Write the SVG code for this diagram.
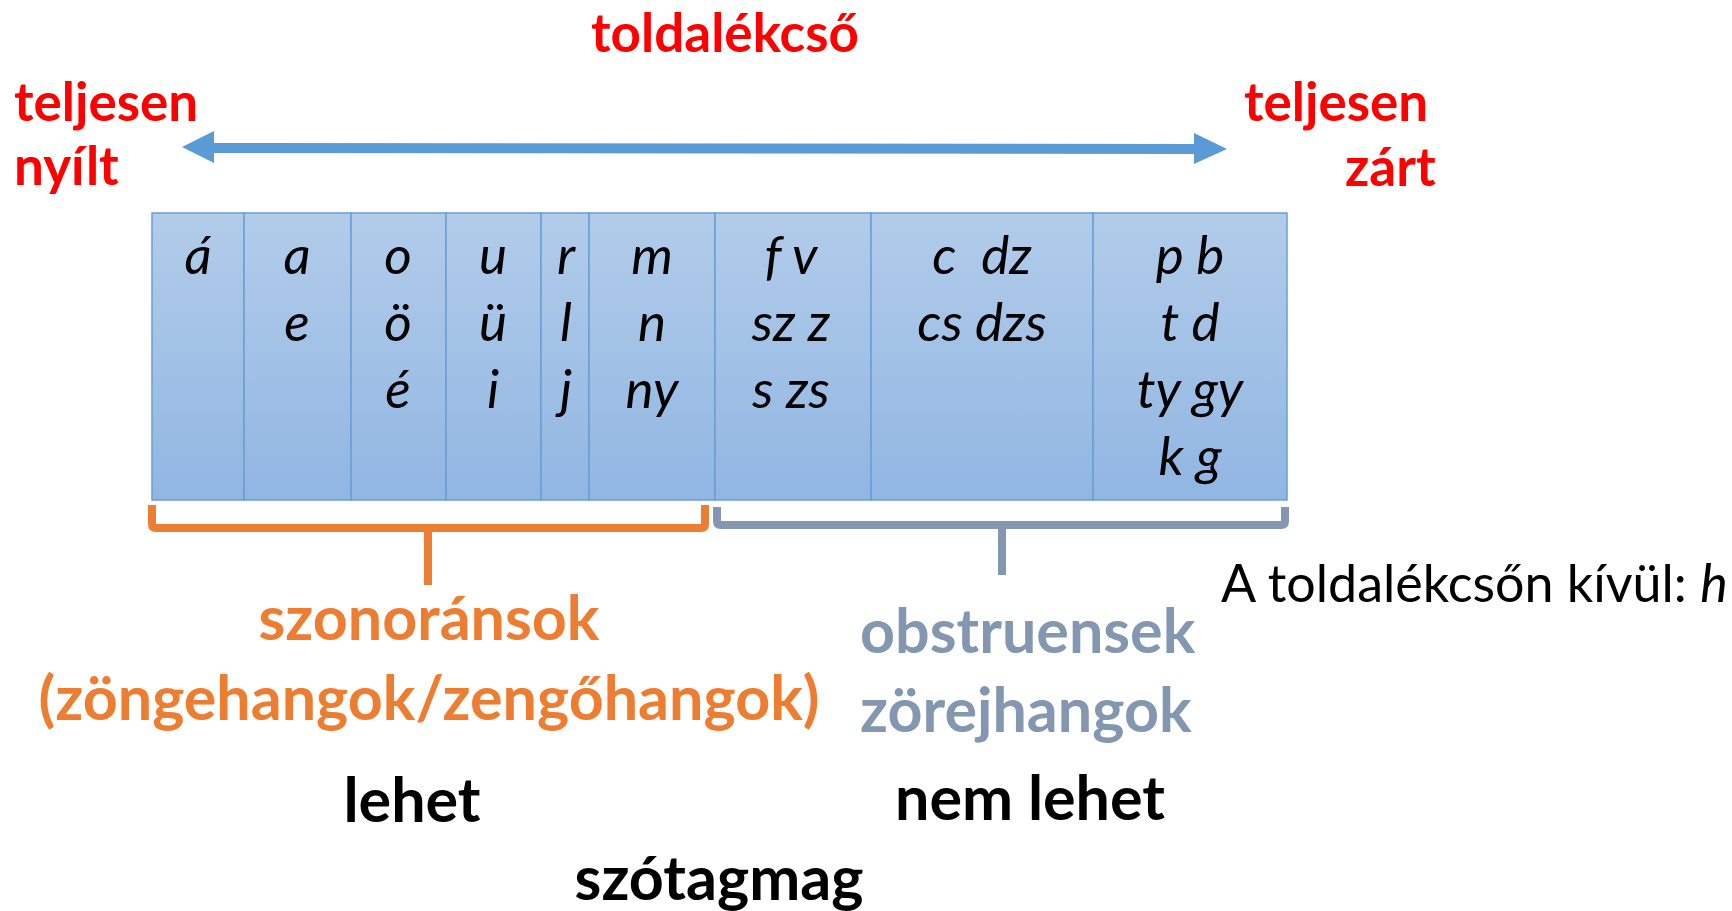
<svg xmlns="http://www.w3.org/2000/svg" width="1732" height="911" viewBox="0 0 1732 911">
<defs>
<linearGradient id="cellGrad" x1="0" y1="0" x2="0" y2="1">
<stop offset="0" stop-color="#B2CCEA"/>
<stop offset="1" stop-color="#91B6E2"/>
</linearGradient>
<style>
.red{font-family:Lato,"Liberation Sans",sans-serif;font-weight:bold;fill:#FF0000;font-size:53px}
.cell{fill:url(#cellGrad);stroke:#6A9FD6;stroke-width:1.5}
.ph{font-family:Lato,"Liberation Sans",sans-serif;font-style:italic;font-size:53px;fill:#000;text-anchor:middle;white-space:pre}
.big{font-family:Lato,"Liberation Sans",sans-serif;font-weight:bold;font-size:61px}
.orange{fill:#ED7D31}
.gray{fill:#8497B0}
.black{fill:#000}
.mid{text-anchor:middle}
.brace{fill:none;stroke-width:8;stroke-linejoin:round;stroke-linecap:butt}
</style>
</defs>
<rect width="1732" height="911" fill="#FFFFFF"/>

<g id="title">
<text class="red mid" x="725" y="52">toldalékcső</text>
</g>
<g id="left-label">
<text class="red" x="14" y="121">teljesen</text>
<text class="red" x="14" y="185">nyílt</text>
</g>
<g id="right-label">
<text class="red" x="1244" y="121">teljesen</text>
<text class="red" x="1345" y="186">zárt</text>
</g>

<g id="connectors">
<g id="scale-arrow" fill="#5B9BD5">
<polygon points="182,147 214,131 214,143 1194,144 1194,133 1227,149 1194,164 1194,154 214,153 214,163"/>
</g>
<g id="sonorant-brace">
<path class="brace" stroke="#ED7D31" d="M152,505 L152,524 Q152,528 156,528 L701,528 Q705,528 705,524 L705,505 M428,528 L428,585"/>
</g>
<g id="obstruent-brace">
<path class="brace" stroke="#8497B0" d="M717,507 L717,521 Q717,525 721,525 L1281,525 Q1285,525 1285,521 L1285,507 M1002,525 L1002,575"/>
</g>
</g>

<g id="table">
<rect class="cell" x="152" y="213" width="92" height="287"/>
<rect class="cell" x="244" y="213" width="107" height="287"/>
<rect class="cell" x="351" y="213" width="95" height="287"/>
<rect class="cell" x="446" y="213" width="95" height="287"/>
<rect class="cell" x="541" y="213" width="48" height="287"/>
<rect class="cell" x="589" y="213" width="126" height="287"/>
<rect class="cell" x="715" y="213" width="156" height="287"/>
<rect class="cell" x="871" y="213" width="222" height="287"/>
<rect class="cell" x="1093" y="213" width="194" height="287"/>
</g>

<g id="col-a-long">
<text class="ph" x="198" y="274">á</text>
</g>
<g id="col-a-e">
<text class="ph" x="297" y="274">a</text>
<text class="ph" x="297" y="341">e</text>
</g>
<g id="col-o">
<text class="ph" x="398" y="274">o</text>
<text class="ph" x="398" y="341">ö</text>
<text class="ph" x="398" y="408">é</text>
</g>
<g id="col-u">
<text class="ph" x="493" y="274">u</text>
<text class="ph" x="493" y="341">ü</text>
<text class="ph" x="493" y="408">i</text>
</g>
<g id="col-r">
<text class="ph" x="566" y="274">r</text>
<text class="ph" x="566" y="341">l</text>
<text class="ph" x="566" y="408">j</text>
</g>
<g id="col-m">
<text class="ph" x="652" y="274">m</text>
<text class="ph" x="652" y="341">n</text>
<text class="ph" x="652" y="408">ny</text>
</g>
<g id="col-f">
<text class="ph" x="791" y="274">f v</text>
<text class="ph" x="791" y="341">sz z</text>
<text class="ph" x="791" y="408">s zs</text>
</g>
<g id="col-c">
<text class="ph" x="982" y="274">c  dz</text>
<text class="ph" x="982" y="341">cs dzs</text>
</g>
<g id="col-p">
<text class="ph" x="1190" y="274">p b</text>
<text class="ph" x="1190" y="341">t d</text>
<text class="ph" x="1190" y="408">ty gy</text>
<text class="ph" x="1190" y="475">k g</text>
</g>

<g id="sonorant-label">
<text class="big orange mid" x="429" y="640">szonoránsok</text>
<text class="big orange mid" x="429" y="720">(zöngehangok/zengőhangok)</text>
</g>
<g id="obstruent-label">
<text class="big gray" x="860" y="653">obstruensek</text>
<text class="big gray" x="860" y="732">zörejhangok</text>
</g>
<g id="can-label">
<text class="big black mid" x="412" y="822">lehet</text>
</g>
<g id="cannot-label">
<text class="big black mid" x="1030" y="820">nem lehet</text>
</g>
<g id="nucleus-label">
<text class="big black mid" x="719" y="900">szótagmag</text>
</g>
<g id="outside-note">
<text x="1221" y="602" font-family="Lato, 'Liberation Sans', sans-serif" font-size="52" fill="#000">A toldalékcsőn kívül: <tspan font-style="italic">h</tspan></text>
</g>
</svg>
